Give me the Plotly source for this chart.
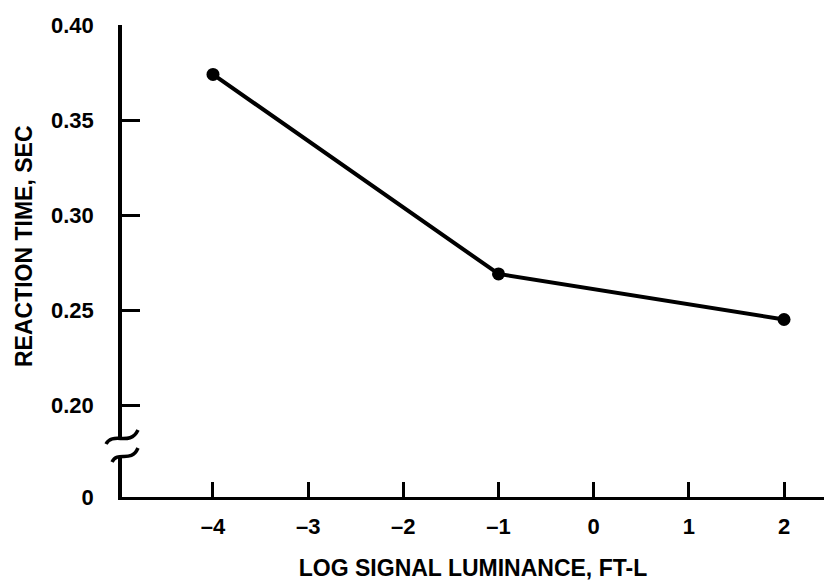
import plotly.graph_objects as go

# Reaction time vs. log signal luminance
luminance = [-4, -1, 2]
reaction_time = [0.374, 0.269, 0.245]

x_ticks = [-4, -3, -2, -1, 0, 1, 2]
x_tick_text = ["\u20134", "\u20133", "\u20132", "\u20131", "0", "1", "2"]

y_bottom = 0.1516
y_ticks = [y_bottom, 0.20, 0.25, 0.30, 0.35, 0.40]
y_tick_text = ["0", "0.20", "0.25", "0.30", "0.35", "0.40"]

FONT = "Liberation Sans, Arial, Helvetica, sans-serif"
W, H = 824, 584
L, R, T, B = 122, 0, 25, 87
PW, PH = W - L - R, H - T - B


def px(x, y):
    """Pixel position -> paper coordinates."""
    return (x - L) / PW, (H - B - y) / PH


def path(points):
    (x0, y0), (c1x, c1y), (c2x, c2y), (x1, y1) = [px(*p) for p in points]
    return f"M {x0},{y0} C {c1x},{c1y} {c2x},{c2y} {x1},{y1}"


fig = go.Figure()
fig.add_trace(go.Scatter(
    x=luminance, y=reaction_time, mode="lines+markers",
    line=dict(color="black", width=4),
    marker=dict(color="black", size=13),
    cliponaxis=False, showlegend=False,
))

# gap in the vertical axis with the two wavy break marks
gx0, gy0 = px(114, 456)
gx1, gy1 = px(130, 438)
shapes = [
    dict(type="rect", xref="paper", yref="paper", x0=gx0, x1=gx1, y0=gy0, y1=gy1,
         fillcolor="white", line=dict(width=0), layer="above"),
    dict(type="path", xref="paper", yref="paper", layer="above",
         path=path([(106, 444), (113, 431), (130, 447), (138, 430)]),
         line=dict(color="black", width=3.5)),
    dict(type="path", xref="paper", yref="paper", layer="above",
         path=path([(112, 462), (118, 450), (131, 464), (138, 448)]),
         line=dict(color="black", width=3.5)),
]

fig.update_layout(
    width=W, height=H,
    margin=dict(l=L, r=R, t=T, b=B),
    paper_bgcolor="white", plot_bgcolor="white",
    font=dict(family=FONT, color="black"),
    shapes=shapes,
    xaxis=dict(
        range=[-4.956, 2.42], tickmode="array", tickvals=x_ticks, ticktext=x_tick_text,
        showgrid=False, zeroline=False, showline=True, linecolor="black", linewidth=3,
        ticks="inside", ticklen=15, tickwidth=3, tickcolor="black",
        tickfont=dict(size=22, family=FONT, weight="bold"), ticklabelstandoff=8,
        title=dict(text="LOG SIGNAL LUMINANCE, FT-L", standoff=22,
                   font=dict(size=23, family=FONT, weight="bold")),
    ),
    yaxis=dict(
        range=[y_bottom, 0.40], tickmode="array", tickvals=y_ticks, ticktext=y_tick_text,
        showgrid=False, zeroline=False, showline=True, linecolor="black", linewidth=3.5,
        ticks="inside", ticklen=18, tickwidth=3, tickcolor="black",
        tickfont=dict(size=22, family=FONT, weight="bold"), ticklabelstandoff=20,
    ),
    annotations=[dict(
        text="REACTION TIME, SEC", xref="paper", yref="paper",
        x=px(24, 246)[0], y=px(24, 246)[1], textangle=-90, showarrow=False,
        xanchor="center", yanchor="middle",
        font=dict(size=23, family=FONT, weight="bold", color="black"),
    )],
)

fig.write_html("out.html")
